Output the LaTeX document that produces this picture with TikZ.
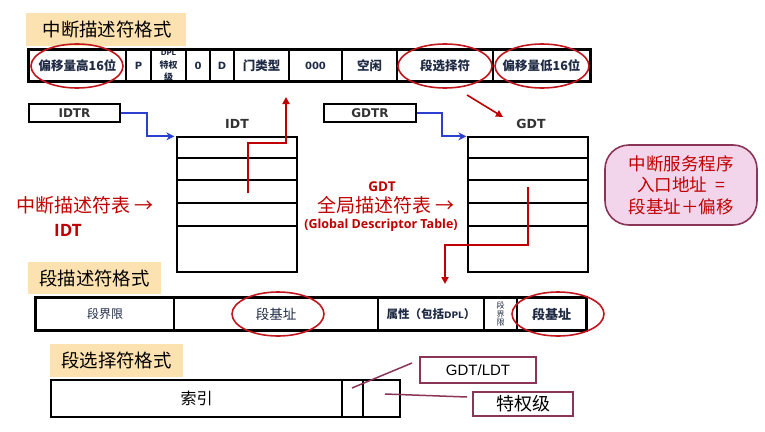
\documentclass[tikz,border=0pt]{standalone}
\usepackage{fontspec}
\setmainfont{Open Sans}
\newfontfamily\cjk{Noto Sans CJK SC}
\newfontfamily\djv{DejaVu Sans}
\newfontfamily\lib{Liberation Sans}
\usetikzlibrary{arrows.meta,shapes.geometric}
\definecolor{peach}{HTML}{FCE2B0}
\definecolor{dred}{HTML}{C00000}
\definecolor{navy}{HTML}{1F2A44}
\definecolor{bluearr}{HTML}{2B3FD0}
\definecolor{pinkf}{HTML}{F2D5EA}
\definecolor{maroon}{HTML}{8A3558}
\definecolor{ellred}{HTML}{C0161E}
\definecolor{lgray}{HTML}{333333}
\tikzset{
  titlebox/.style={fill=peach, inner xsep=0pt, inner ysep=0pt, align=left, anchor=north west, font=\cjk\fontsize{18.4}{20}\selectfont, text=black},
  cell/.style={draw=black, line width=1.3pt, inner sep=0pt, text=navy, font=\cjk\bfseries\fontsize{12.5}{14}\selectfont},
  smallcell/.style={font=\djv\bfseries\fontsize{10}{12}\selectfont},
  trow/.style={draw=black, line width=1.3pt, minimum width=120pt, inner sep=0pt},
  regbox/.style={draw=black, line width=1.6pt, minimum width=91pt, minimum height=18pt, inner sep=0pt, font=\djv\bfseries\fontsize{12}{14}\selectfont, text=lgray},
  tlabel/.style={font=\djv\bfseries\fontsize{12.5}{14}\selectfont, text=lgray},
  ring/.style={ellipse, draw=ellred, line width=1.6pt, inner sep=0pt, minimum width=92pt, minimum height=44pt},
  redlab/.style={text=dred, font=\cjk\fontsize{19}{22}\selectfont},
  redarr/.style={draw=dred, line width=1.8pt, -{Triangle[length=7pt,width=7pt]}},
  bluearrow/.style={draw=bluearr, line width=2.2pt, -{Stealth[length=8pt,width=8pt]}},
  mbox/.style={draw=maroon, line width=1.6pt, inner sep=0pt},
  mline/.style={draw=maroon, line width=1.5pt},
}
\begin{document}
\begin{tikzpicture}[x=1pt,y=-1pt]
\useasboundingbox (0,0) rectangle (765,431);
% ---------- title 1
\node[titlebox, minimum width=160pt, minimum height=33pt, text width=149pt, inner xsep=0pt] (t1) at (26,13) {\hspace*{11pt}中断描述符格式};
% ---------- interrupt descriptor
\begin{scope}[every node/.append style={cell, minimum height=31pt}]
\node[minimum width=97pt] (c1) at (77.5,65.5) {偏移量高16位};
\node[minimum width=25pt, smallcell] (c2) at (138.5,65.5) {P};
\node[minimum width=35pt, align=center] (c3) at (168.5,65.5) {{\djv\fontsize{7}{7}\selectfont DPL}\\[-1pt]{\fontsize{9}{9}\selectfont 特权}\\[-2pt]{\fontsize{9}{9}\selectfont 级}};
\node[minimum width=24pt, smallcell] (c4) at (198,65.5) {0};
\node[minimum width=24pt, smallcell] (c5) at (222,65.5) {D};
\node[minimum width=55pt] (c6) at (261.5,65.5) {门类型};
\node[minimum width=53pt, smallcell] (c7) at (315.5,65.5) {000};
\node[minimum width=55pt] (c8) at (369.5,65.5) {空闲};
\node[minimum width=96pt] (c9) at (445,65.5) {段选择符};
\node[minimum width=97pt] (c10) at (541.5,65.5) {偏移量低16位};
\end{scope}
\draw[line width=2.5pt] (c1.north west) rectangle (c10.south east);
\node[ring] (e1) at (77,66) {};
\node[ring, minimum width=94pt] (e2) at (445,66) {};
\node[ring, minimum width=94pt] (e3) at (542,66) {};
% ---------- IDTR / IDT
\node[regbox] (idtr) at (74.5,113) {IDTR};
\node[tlabel] (idtlab) at (237,124) {IDT};
\node[trow, minimum height=21pt] (i1) at (237,147.5) {};
\node[trow, minimum height=22pt] (i2) at (237,169) {};
\node[trow, minimum height=23pt] (i3) at (237,191.5) {};
\node[trow, minimum height=23pt] (i4) at (237,214.5) {};
\node[trow, minimum height=46pt] (i5) at (237,249) {};
\coordinate (ib) at (147,113);
\draw[bluearrow] (idtr.east) -- (ib) |- ([xshift=-2pt]i1.north west);
\coordinate (is) at (248,193);
\coordinate (it) at (286,97);
\draw[redarr] (is) -- (248,143) -| (it);
% ---------- GDTR / GDT
\node[regbox, minimum width=92pt] (gdtr) at (370,113) {GDTR};
\node[tlabel] (gdtlab) at (531,124) {GDT};
\node[trow, minimum height=21pt] (g1) at (528,147.5) {};
\node[trow, minimum height=22pt] (g2) at (528,169) {};
\node[trow, minimum height=23pt] (g3) at (528,191.5) {};
\node[trow, minimum height=23pt] (g4) at (528,214.5) {};
\node[trow, minimum height=46pt] (g5) at (528,249) {};
\coordinate (gb) at (442,113);
\draw[bluearrow] (gdtr.east) -- (gb) |- ([xshift=-1pt]g1.north west);
\coordinate (ga) at (467,95);
\coordinate (gz) at (503,117);
\draw[redarr, line width=1.6pt] (ga) -- (gz);
\coordinate (gs) at (528,187);
\coordinate (gt) at (445,284);
\draw[redarr] (gs) -- (528,245) -| (gt);
% ---------- red labels
\node[redlab] (lab1) at (85,205) {中断描述符表\,→};
\node[text=dred, font=\bfseries\fontsize{17}{18}\selectfont] (lab2) at (68,230) {IDT};
\node[text=dred, font=\bfseries\fontsize{13.5}{14}\selectfont] (lab3) at (382,187) {GDT};
\node[redlab] (lab4) at (386,205) {全局描述符表\,→};
\node[text=dred, font=\bfseries\fontsize{12.5}{14}\selectfont] (lab5) at (381,225) {(Global Descriptor Table)};
% ---------- pink box
\node[draw=maroon, fill=pinkf, line width=1.6pt, rounded corners=24pt, minimum width=152pt, minimum height=80pt, align=center, text=dred, font=\cjk\fontsize{17.5}{21.5}\selectfont] (pink) at (681,185) {中断服务程序\\入口地址\ \ =\ \\段基址＋偏移};
% ---------- title 2
\node[titlebox, minimum width=133pt, minimum height=32pt, text width=133pt] (t2) at (28,262) {\hspace*{11pt}段描述符格式};
% ---------- segment descriptor
\begin{scope}[every node/.append style={cell, line width=1.3pt, minimum height=32pt}]
\node[minimum width=138pt, font=\cjk\fontsize{12}{14}\selectfont] (s1) at (105,314) {段界限};
\node[minimum width=204pt, font=\cjk\fontsize{13.5}{14}\selectfont] (s2) at (276,314) {段基址};
\node[minimum width=106pt, font=\cjk\bfseries\fontsize{11.5}{14}\selectfont] (s3) at (431,314) {属性（包括{\djv\fontsize{9}{10}\selectfont DPL}）};
\node[minimum width=33pt, align=center, font=\cjk\fontsize{8}{8.5}\selectfont] (s4) at (500.5,314) {段\\界\\限};
\node[minimum width=69pt, font=\cjk\bfseries\fontsize{13}{14}\selectfont] (s5) at (551.5,314) {段基址};
\end{scope}
\draw[line width=2.2pt] (s1.north west) rectangle (s5.south east);
\node[ring] (e4) at (278,314) {};
\node[ring] (e5) at (558,314) {};
% ---------- title 3
\node[titlebox, minimum width=133pt, minimum height=33pt, text width=133pt] (t3) at (50,344) {\hspace*{11pt}段选择符格式};
% ---------- selector
\begin{scope}[every node/.append style={cell, line width=2.4pt, minimum height=37pt, text=black, font=\cjk\fontsize{16}{18}\selectfont}]
\node[minimum width=291pt] (x1) at (196.5,398.5) {索引};
\node[minimum width=21pt] (x2) at (352.5,398.5) {};
\node[minimum width=37pt] (x3) at (381.5,398.5) {};
\end{scope}
\node[mbox, minimum width=116pt, minimum height=26pt, font=\lib\fontsize{15}{16}\selectfont] (gl) at (478,370) {GDT/LDT};
\node[mbox, minimum width=100pt, minimum height=24pt, font=\cjk\fontsize{18}{18}\selectfont] (pl) at (523,404) {特权级};
\coordinate (m1) at (352,388);
\coordinate (m2) at (412,363);
\coordinate (m3) at (385,394);
\coordinate (m4) at (467,397);
\draw[mline] (m1) -- (m2);
\draw[mline] (m3) -- (m4);
\end{tikzpicture}
\end{document}
